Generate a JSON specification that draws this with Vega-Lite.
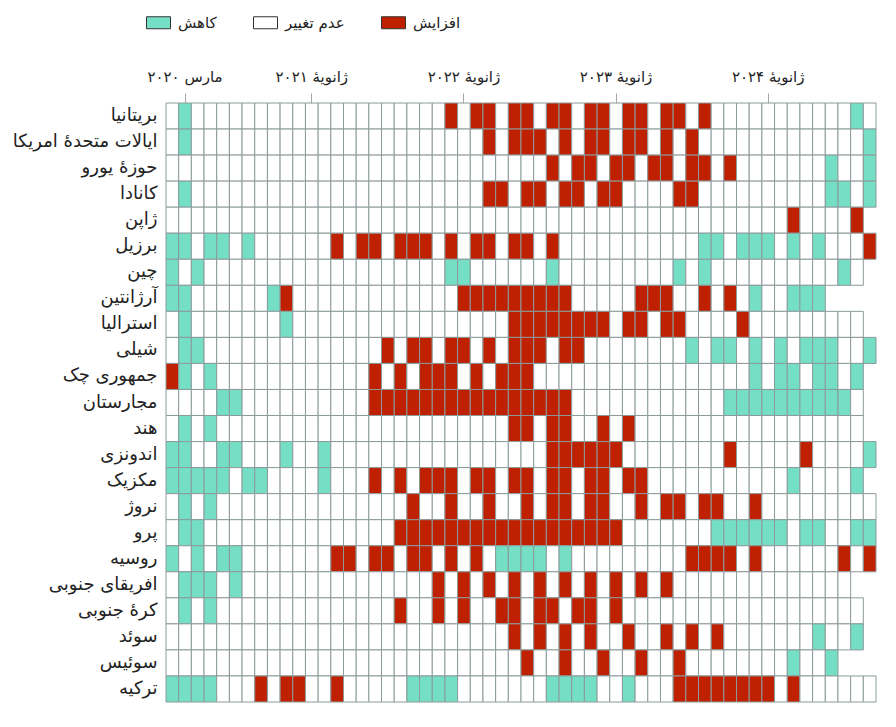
{"$schema":"https://vega.github.io/schema/vega-lite/v6.json","width":710,"height":599,"autosize":{"type":"none"},"padding":{"left":166,"top":103,"right":20,"bottom":25},"background":"white","config":{"font":"DejaVu Sans","view":{"stroke":null}},
"data":{"values":[
{"c":"GB","m":202002,"s":"same"},{"c":"GB","m":202003,"s":"down"},{"c":"GB","m":202004,"s":"same"},{"c":"GB","m":202005,"s":"same"},{"c":"GB","m":202006,"s":"same"},{"c":"GB","m":202007,"s":"same"},{"c":"GB","m":202008,"s":"same"},{"c":"GB","m":202009,"s":"same"},{"c":"GB","m":202010,"s":"same"},{"c":"GB","m":202011,"s":"same"},{"c":"GB","m":202012,"s":"same"},{"c":"GB","m":202101,"s":"same"},{"c":"GB","m":202102,"s":"same"},{"c":"GB","m":202103,"s":"same"},{"c":"GB","m":202104,"s":"same"},{"c":"GB","m":202105,"s":"same"},{"c":"GB","m":202106,"s":"same"},{"c":"GB","m":202107,"s":"same"},{"c":"GB","m":202108,"s":"same"},{"c":"GB","m":202109,"s":"same"},{"c":"GB","m":202110,"s":"same"},{"c":"GB","m":202111,"s":"same"},{"c":"GB","m":202112,"s":"up"},{"c":"GB","m":202201,"s":"same"},{"c":"GB","m":202202,"s":"up"},{"c":"GB","m":202203,"s":"up"},{"c":"GB","m":202204,"s":"same"},{"c":"GB","m":202205,"s":"up"},{"c":"GB","m":202206,"s":"up"},{"c":"GB","m":202207,"s":"same"},{"c":"GB","m":202208,"s":"up"},{"c":"GB","m":202209,"s":"up"},{"c":"GB","m":202210,"s":"same"},{"c":"GB","m":202211,"s":"up"},{"c":"GB","m":202212,"s":"up"},{"c":"GB","m":202301,"s":"same"},{"c":"GB","m":202302,"s":"up"},{"c":"GB","m":202303,"s":"up"},{"c":"GB","m":202304,"s":"same"},{"c":"GB","m":202305,"s":"up"},{"c":"GB","m":202306,"s":"up"},{"c":"GB","m":202307,"s":"same"},{"c":"GB","m":202308,"s":"up"},{"c":"GB","m":202309,"s":"same"},{"c":"GB","m":202310,"s":"same"},{"c":"GB","m":202311,"s":"same"},{"c":"GB","m":202312,"s":"same"},{"c":"GB","m":202401,"s":"same"},{"c":"GB","m":202402,"s":"same"},{"c":"GB","m":202403,"s":"same"},{"c":"GB","m":202404,"s":"same"},{"c":"GB","m":202405,"s":"same"},{"c":"GB","m":202406,"s":"same"},{"c":"GB","m":202407,"s":"same"},{"c":"GB","m":202408,"s":"down"},{"c":"GB","m":202409,"s":"same"},
{"c":"US","m":202002,"s":"same"},{"c":"US","m":202003,"s":"down"},{"c":"US","m":202004,"s":"same"},{"c":"US","m":202005,"s":"same"},{"c":"US","m":202006,"s":"same"},{"c":"US","m":202007,"s":"same"},{"c":"US","m":202008,"s":"same"},{"c":"US","m":202009,"s":"same"},{"c":"US","m":202010,"s":"same"},{"c":"US","m":202011,"s":"same"},{"c":"US","m":202012,"s":"same"},{"c":"US","m":202101,"s":"same"},{"c":"US","m":202102,"s":"same"},{"c":"US","m":202103,"s":"same"},{"c":"US","m":202104,"s":"same"},{"c":"US","m":202105,"s":"same"},{"c":"US","m":202106,"s":"same"},{"c":"US","m":202107,"s":"same"},{"c":"US","m":202108,"s":"same"},{"c":"US","m":202109,"s":"same"},{"c":"US","m":202110,"s":"same"},{"c":"US","m":202111,"s":"same"},{"c":"US","m":202112,"s":"same"},{"c":"US","m":202201,"s":"same"},{"c":"US","m":202202,"s":"same"},{"c":"US","m":202203,"s":"up"},{"c":"US","m":202204,"s":"same"},{"c":"US","m":202205,"s":"up"},{"c":"US","m":202206,"s":"up"},{"c":"US","m":202207,"s":"up"},{"c":"US","m":202208,"s":"same"},{"c":"US","m":202209,"s":"up"},{"c":"US","m":202210,"s":"same"},{"c":"US","m":202211,"s":"up"},{"c":"US","m":202212,"s":"up"},{"c":"US","m":202301,"s":"same"},{"c":"US","m":202302,"s":"up"},{"c":"US","m":202303,"s":"up"},{"c":"US","m":202304,"s":"same"},{"c":"US","m":202305,"s":"up"},{"c":"US","m":202306,"s":"same"},{"c":"US","m":202307,"s":"up"},{"c":"US","m":202308,"s":"same"},{"c":"US","m":202309,"s":"same"},{"c":"US","m":202310,"s":"same"},{"c":"US","m":202311,"s":"same"},{"c":"US","m":202312,"s":"same"},{"c":"US","m":202401,"s":"same"},{"c":"US","m":202402,"s":"same"},{"c":"US","m":202403,"s":"same"},{"c":"US","m":202404,"s":"same"},{"c":"US","m":202405,"s":"same"},{"c":"US","m":202406,"s":"same"},{"c":"US","m":202407,"s":"same"},{"c":"US","m":202408,"s":"same"},{"c":"US","m":202409,"s":"down"},
{"c":"EA","m":202002,"s":"same"},{"c":"EA","m":202003,"s":"same"},{"c":"EA","m":202004,"s":"same"},{"c":"EA","m":202005,"s":"same"},{"c":"EA","m":202006,"s":"same"},{"c":"EA","m":202007,"s":"same"},{"c":"EA","m":202008,"s":"same"},{"c":"EA","m":202009,"s":"same"},{"c":"EA","m":202010,"s":"same"},{"c":"EA","m":202011,"s":"same"},{"c":"EA","m":202012,"s":"same"},{"c":"EA","m":202101,"s":"same"},{"c":"EA","m":202102,"s":"same"},{"c":"EA","m":202103,"s":"same"},{"c":"EA","m":202104,"s":"same"},{"c":"EA","m":202105,"s":"same"},{"c":"EA","m":202106,"s":"same"},{"c":"EA","m":202107,"s":"same"},{"c":"EA","m":202108,"s":"same"},{"c":"EA","m":202109,"s":"same"},{"c":"EA","m":202110,"s":"same"},{"c":"EA","m":202111,"s":"same"},{"c":"EA","m":202112,"s":"same"},{"c":"EA","m":202201,"s":"same"},{"c":"EA","m":202202,"s":"same"},{"c":"EA","m":202203,"s":"same"},{"c":"EA","m":202204,"s":"same"},{"c":"EA","m":202205,"s":"same"},{"c":"EA","m":202206,"s":"same"},{"c":"EA","m":202207,"s":"same"},{"c":"EA","m":202208,"s":"up"},{"c":"EA","m":202209,"s":"same"},{"c":"EA","m":202210,"s":"up"},{"c":"EA","m":202211,"s":"up"},{"c":"EA","m":202212,"s":"same"},{"c":"EA","m":202301,"s":"up"},{"c":"EA","m":202302,"s":"up"},{"c":"EA","m":202303,"s":"same"},{"c":"EA","m":202304,"s":"up"},{"c":"EA","m":202305,"s":"up"},{"c":"EA","m":202306,"s":"same"},{"c":"EA","m":202307,"s":"up"},{"c":"EA","m":202308,"s":"up"},{"c":"EA","m":202309,"s":"same"},{"c":"EA","m":202310,"s":"up"},{"c":"EA","m":202311,"s":"same"},{"c":"EA","m":202312,"s":"same"},{"c":"EA","m":202401,"s":"same"},{"c":"EA","m":202402,"s":"same"},{"c":"EA","m":202403,"s":"same"},{"c":"EA","m":202404,"s":"same"},{"c":"EA","m":202405,"s":"same"},{"c":"EA","m":202406,"s":"down"},{"c":"EA","m":202407,"s":"same"},{"c":"EA","m":202408,"s":"same"},{"c":"EA","m":202409,"s":"down"},
{"c":"CA","m":202002,"s":"same"},{"c":"CA","m":202003,"s":"down"},{"c":"CA","m":202004,"s":"same"},{"c":"CA","m":202005,"s":"same"},{"c":"CA","m":202006,"s":"same"},{"c":"CA","m":202007,"s":"same"},{"c":"CA","m":202008,"s":"same"},{"c":"CA","m":202009,"s":"same"},{"c":"CA","m":202010,"s":"same"},{"c":"CA","m":202011,"s":"same"},{"c":"CA","m":202012,"s":"same"},{"c":"CA","m":202101,"s":"same"},{"c":"CA","m":202102,"s":"same"},{"c":"CA","m":202103,"s":"same"},{"c":"CA","m":202104,"s":"same"},{"c":"CA","m":202105,"s":"same"},{"c":"CA","m":202106,"s":"same"},{"c":"CA","m":202107,"s":"same"},{"c":"CA","m":202108,"s":"same"},{"c":"CA","m":202109,"s":"same"},{"c":"CA","m":202110,"s":"same"},{"c":"CA","m":202111,"s":"same"},{"c":"CA","m":202112,"s":"same"},{"c":"CA","m":202201,"s":"same"},{"c":"CA","m":202202,"s":"same"},{"c":"CA","m":202203,"s":"up"},{"c":"CA","m":202204,"s":"up"},{"c":"CA","m":202205,"s":"same"},{"c":"CA","m":202206,"s":"up"},{"c":"CA","m":202207,"s":"up"},{"c":"CA","m":202208,"s":"same"},{"c":"CA","m":202209,"s":"up"},{"c":"CA","m":202210,"s":"up"},{"c":"CA","m":202211,"s":"same"},{"c":"CA","m":202212,"s":"up"},{"c":"CA","m":202301,"s":"up"},{"c":"CA","m":202302,"s":"same"},{"c":"CA","m":202303,"s":"same"},{"c":"CA","m":202304,"s":"same"},{"c":"CA","m":202305,"s":"same"},{"c":"CA","m":202306,"s":"up"},{"c":"CA","m":202307,"s":"up"},{"c":"CA","m":202308,"s":"same"},{"c":"CA","m":202309,"s":"same"},{"c":"CA","m":202310,"s":"same"},{"c":"CA","m":202311,"s":"same"},{"c":"CA","m":202312,"s":"same"},{"c":"CA","m":202401,"s":"same"},{"c":"CA","m":202402,"s":"same"},{"c":"CA","m":202403,"s":"same"},{"c":"CA","m":202404,"s":"same"},{"c":"CA","m":202405,"s":"same"},{"c":"CA","m":202406,"s":"down"},{"c":"CA","m":202407,"s":"down"},{"c":"CA","m":202408,"s":"same"},{"c":"CA","m":202409,"s":"down"},
{"c":"JP","m":202002,"s":"same"},{"c":"JP","m":202003,"s":"same"},{"c":"JP","m":202004,"s":"same"},{"c":"JP","m":202005,"s":"same"},{"c":"JP","m":202006,"s":"same"},{"c":"JP","m":202007,"s":"same"},{"c":"JP","m":202008,"s":"same"},{"c":"JP","m":202009,"s":"same"},{"c":"JP","m":202010,"s":"same"},{"c":"JP","m":202011,"s":"same"},{"c":"JP","m":202012,"s":"same"},{"c":"JP","m":202101,"s":"same"},{"c":"JP","m":202102,"s":"same"},{"c":"JP","m":202103,"s":"same"},{"c":"JP","m":202104,"s":"same"},{"c":"JP","m":202105,"s":"same"},{"c":"JP","m":202106,"s":"same"},{"c":"JP","m":202107,"s":"same"},{"c":"JP","m":202108,"s":"same"},{"c":"JP","m":202109,"s":"same"},{"c":"JP","m":202110,"s":"same"},{"c":"JP","m":202111,"s":"same"},{"c":"JP","m":202112,"s":"same"},{"c":"JP","m":202201,"s":"same"},{"c":"JP","m":202202,"s":"same"},{"c":"JP","m":202203,"s":"same"},{"c":"JP","m":202204,"s":"same"},{"c":"JP","m":202205,"s":"same"},{"c":"JP","m":202206,"s":"same"},{"c":"JP","m":202207,"s":"same"},{"c":"JP","m":202208,"s":"same"},{"c":"JP","m":202209,"s":"same"},{"c":"JP","m":202210,"s":"same"},{"c":"JP","m":202211,"s":"same"},{"c":"JP","m":202212,"s":"same"},{"c":"JP","m":202301,"s":"same"},{"c":"JP","m":202302,"s":"same"},{"c":"JP","m":202303,"s":"same"},{"c":"JP","m":202304,"s":"same"},{"c":"JP","m":202305,"s":"same"},{"c":"JP","m":202306,"s":"same"},{"c":"JP","m":202307,"s":"same"},{"c":"JP","m":202308,"s":"same"},{"c":"JP","m":202309,"s":"same"},{"c":"JP","m":202310,"s":"same"},{"c":"JP","m":202311,"s":"same"},{"c":"JP","m":202312,"s":"same"},{"c":"JP","m":202401,"s":"same"},{"c":"JP","m":202402,"s":"same"},{"c":"JP","m":202403,"s":"up"},{"c":"JP","m":202404,"s":"same"},{"c":"JP","m":202405,"s":"same"},{"c":"JP","m":202406,"s":"same"},{"c":"JP","m":202407,"s":"same"},{"c":"JP","m":202408,"s":"up"},
{"c":"BR","m":202002,"s":"down"},{"c":"BR","m":202003,"s":"down"},{"c":"BR","m":202004,"s":"same"},{"c":"BR","m":202005,"s":"down"},{"c":"BR","m":202006,"s":"down"},{"c":"BR","m":202007,"s":"same"},{"c":"BR","m":202008,"s":"down"},{"c":"BR","m":202009,"s":"same"},{"c":"BR","m":202010,"s":"same"},{"c":"BR","m":202011,"s":"same"},{"c":"BR","m":202012,"s":"same"},{"c":"BR","m":202101,"s":"same"},{"c":"BR","m":202102,"s":"same"},{"c":"BR","m":202103,"s":"up"},{"c":"BR","m":202104,"s":"same"},{"c":"BR","m":202105,"s":"up"},{"c":"BR","m":202106,"s":"up"},{"c":"BR","m":202107,"s":"same"},{"c":"BR","m":202108,"s":"up"},{"c":"BR","m":202109,"s":"up"},{"c":"BR","m":202110,"s":"up"},{"c":"BR","m":202111,"s":"same"},{"c":"BR","m":202112,"s":"up"},{"c":"BR","m":202201,"s":"same"},{"c":"BR","m":202202,"s":"up"},{"c":"BR","m":202203,"s":"up"},{"c":"BR","m":202204,"s":"same"},{"c":"BR","m":202205,"s":"up"},{"c":"BR","m":202206,"s":"up"},{"c":"BR","m":202207,"s":"same"},{"c":"BR","m":202208,"s":"up"},{"c":"BR","m":202209,"s":"same"},{"c":"BR","m":202210,"s":"same"},{"c":"BR","m":202211,"s":"same"},{"c":"BR","m":202212,"s":"same"},{"c":"BR","m":202301,"s":"same"},{"c":"BR","m":202302,"s":"same"},{"c":"BR","m":202303,"s":"same"},{"c":"BR","m":202304,"s":"same"},{"c":"BR","m":202305,"s":"same"},{"c":"BR","m":202306,"s":"same"},{"c":"BR","m":202307,"s":"same"},{"c":"BR","m":202308,"s":"down"},{"c":"BR","m":202309,"s":"down"},{"c":"BR","m":202310,"s":"same"},{"c":"BR","m":202311,"s":"down"},{"c":"BR","m":202312,"s":"down"},{"c":"BR","m":202401,"s":"down"},{"c":"BR","m":202402,"s":"same"},{"c":"BR","m":202403,"s":"down"},{"c":"BR","m":202404,"s":"same"},{"c":"BR","m":202405,"s":"down"},{"c":"BR","m":202406,"s":"same"},{"c":"BR","m":202407,"s":"same"},{"c":"BR","m":202408,"s":"same"},{"c":"BR","m":202409,"s":"up"},
{"c":"CN","m":202002,"s":"down"},{"c":"CN","m":202003,"s":"same"},{"c":"CN","m":202004,"s":"down"},{"c":"CN","m":202005,"s":"same"},{"c":"CN","m":202006,"s":"same"},{"c":"CN","m":202007,"s":"same"},{"c":"CN","m":202008,"s":"same"},{"c":"CN","m":202009,"s":"same"},{"c":"CN","m":202010,"s":"same"},{"c":"CN","m":202011,"s":"same"},{"c":"CN","m":202012,"s":"same"},{"c":"CN","m":202101,"s":"same"},{"c":"CN","m":202102,"s":"same"},{"c":"CN","m":202103,"s":"same"},{"c":"CN","m":202104,"s":"same"},{"c":"CN","m":202105,"s":"same"},{"c":"CN","m":202106,"s":"same"},{"c":"CN","m":202107,"s":"same"},{"c":"CN","m":202108,"s":"same"},{"c":"CN","m":202109,"s":"same"},{"c":"CN","m":202110,"s":"same"},{"c":"CN","m":202111,"s":"same"},{"c":"CN","m":202112,"s":"down"},{"c":"CN","m":202201,"s":"down"},{"c":"CN","m":202202,"s":"same"},{"c":"CN","m":202203,"s":"same"},{"c":"CN","m":202204,"s":"same"},{"c":"CN","m":202205,"s":"same"},{"c":"CN","m":202206,"s":"same"},{"c":"CN","m":202207,"s":"same"},{"c":"CN","m":202208,"s":"down"},{"c":"CN","m":202209,"s":"same"},{"c":"CN","m":202210,"s":"same"},{"c":"CN","m":202211,"s":"same"},{"c":"CN","m":202212,"s":"same"},{"c":"CN","m":202301,"s":"same"},{"c":"CN","m":202302,"s":"same"},{"c":"CN","m":202303,"s":"same"},{"c":"CN","m":202304,"s":"same"},{"c":"CN","m":202305,"s":"same"},{"c":"CN","m":202306,"s":"down"},{"c":"CN","m":202307,"s":"same"},{"c":"CN","m":202308,"s":"down"},{"c":"CN","m":202309,"s":"same"},{"c":"CN","m":202310,"s":"same"},{"c":"CN","m":202311,"s":"same"},{"c":"CN","m":202312,"s":"same"},{"c":"CN","m":202401,"s":"same"},{"c":"CN","m":202402,"s":"same"},{"c":"CN","m":202403,"s":"same"},{"c":"CN","m":202404,"s":"same"},{"c":"CN","m":202405,"s":"same"},{"c":"CN","m":202406,"s":"same"},{"c":"CN","m":202407,"s":"down"},{"c":"CN","m":202408,"s":"same"},
{"c":"AR","m":202002,"s":"down"},{"c":"AR","m":202003,"s":"down"},{"c":"AR","m":202004,"s":"same"},{"c":"AR","m":202005,"s":"same"},{"c":"AR","m":202006,"s":"same"},{"c":"AR","m":202007,"s":"same"},{"c":"AR","m":202008,"s":"same"},{"c":"AR","m":202009,"s":"same"},{"c":"AR","m":202010,"s":"down"},{"c":"AR","m":202011,"s":"up"},{"c":"AR","m":202012,"s":"same"},{"c":"AR","m":202101,"s":"same"},{"c":"AR","m":202102,"s":"same"},{"c":"AR","m":202103,"s":"same"},{"c":"AR","m":202104,"s":"same"},{"c":"AR","m":202105,"s":"same"},{"c":"AR","m":202106,"s":"same"},{"c":"AR","m":202107,"s":"same"},{"c":"AR","m":202108,"s":"same"},{"c":"AR","m":202109,"s":"same"},{"c":"AR","m":202110,"s":"same"},{"c":"AR","m":202111,"s":"same"},{"c":"AR","m":202112,"s":"same"},{"c":"AR","m":202201,"s":"up"},{"c":"AR","m":202202,"s":"up"},{"c":"AR","m":202203,"s":"up"},{"c":"AR","m":202204,"s":"up"},{"c":"AR","m":202205,"s":"up"},{"c":"AR","m":202206,"s":"up"},{"c":"AR","m":202207,"s":"up"},{"c":"AR","m":202208,"s":"up"},{"c":"AR","m":202209,"s":"up"},{"c":"AR","m":202210,"s":"same"},{"c":"AR","m":202211,"s":"same"},{"c":"AR","m":202212,"s":"same"},{"c":"AR","m":202301,"s":"same"},{"c":"AR","m":202302,"s":"same"},{"c":"AR","m":202303,"s":"up"},{"c":"AR","m":202304,"s":"up"},{"c":"AR","m":202305,"s":"up"},{"c":"AR","m":202306,"s":"same"},{"c":"AR","m":202307,"s":"same"},{"c":"AR","m":202308,"s":"up"},{"c":"AR","m":202309,"s":"same"},{"c":"AR","m":202310,"s":"up"},{"c":"AR","m":202311,"s":"same"},{"c":"AR","m":202312,"s":"down"},{"c":"AR","m":202401,"s":"same"},{"c":"AR","m":202402,"s":"same"},{"c":"AR","m":202403,"s":"down"},{"c":"AR","m":202404,"s":"down"},{"c":"AR","m":202405,"s":"down"},
{"c":"AU","m":202002,"s":"same"},{"c":"AU","m":202003,"s":"down"},{"c":"AU","m":202004,"s":"same"},{"c":"AU","m":202005,"s":"same"},{"c":"AU","m":202006,"s":"same"},{"c":"AU","m":202007,"s":"same"},{"c":"AU","m":202008,"s":"same"},{"c":"AU","m":202009,"s":"same"},{"c":"AU","m":202010,"s":"same"},{"c":"AU","m":202011,"s":"down"},{"c":"AU","m":202012,"s":"same"},{"c":"AU","m":202101,"s":"same"},{"c":"AU","m":202102,"s":"same"},{"c":"AU","m":202103,"s":"same"},{"c":"AU","m":202104,"s":"same"},{"c":"AU","m":202105,"s":"same"},{"c":"AU","m":202106,"s":"same"},{"c":"AU","m":202107,"s":"same"},{"c":"AU","m":202108,"s":"same"},{"c":"AU","m":202109,"s":"same"},{"c":"AU","m":202110,"s":"same"},{"c":"AU","m":202111,"s":"same"},{"c":"AU","m":202112,"s":"same"},{"c":"AU","m":202201,"s":"same"},{"c":"AU","m":202202,"s":"same"},{"c":"AU","m":202203,"s":"same"},{"c":"AU","m":202204,"s":"same"},{"c":"AU","m":202205,"s":"up"},{"c":"AU","m":202206,"s":"up"},{"c":"AU","m":202207,"s":"up"},{"c":"AU","m":202208,"s":"up"},{"c":"AU","m":202209,"s":"up"},{"c":"AU","m":202210,"s":"up"},{"c":"AU","m":202211,"s":"up"},{"c":"AU","m":202212,"s":"up"},{"c":"AU","m":202301,"s":"same"},{"c":"AU","m":202302,"s":"up"},{"c":"AU","m":202303,"s":"up"},{"c":"AU","m":202304,"s":"same"},{"c":"AU","m":202305,"s":"up"},{"c":"AU","m":202306,"s":"up"},{"c":"AU","m":202307,"s":"same"},{"c":"AU","m":202308,"s":"same"},{"c":"AU","m":202309,"s":"same"},{"c":"AU","m":202310,"s":"same"},{"c":"AU","m":202311,"s":"up"},{"c":"AU","m":202312,"s":"same"},{"c":"AU","m":202401,"s":"same"},{"c":"AU","m":202402,"s":"same"},{"c":"AU","m":202403,"s":"same"},{"c":"AU","m":202404,"s":"same"},{"c":"AU","m":202405,"s":"same"},{"c":"AU","m":202406,"s":"same"},{"c":"AU","m":202407,"s":"same"},{"c":"AU","m":202408,"s":"same"},
{"c":"CL","m":202002,"s":"same"},{"c":"CL","m":202003,"s":"down"},{"c":"CL","m":202004,"s":"down"},{"c":"CL","m":202005,"s":"same"},{"c":"CL","m":202006,"s":"same"},{"c":"CL","m":202007,"s":"same"},{"c":"CL","m":202008,"s":"same"},{"c":"CL","m":202009,"s":"same"},{"c":"CL","m":202010,"s":"same"},{"c":"CL","m":202011,"s":"same"},{"c":"CL","m":202012,"s":"same"},{"c":"CL","m":202101,"s":"same"},{"c":"CL","m":202102,"s":"same"},{"c":"CL","m":202103,"s":"same"},{"c":"CL","m":202104,"s":"same"},{"c":"CL","m":202105,"s":"same"},{"c":"CL","m":202106,"s":"same"},{"c":"CL","m":202107,"s":"up"},{"c":"CL","m":202108,"s":"same"},{"c":"CL","m":202109,"s":"up"},{"c":"CL","m":202110,"s":"up"},{"c":"CL","m":202111,"s":"same"},{"c":"CL","m":202112,"s":"up"},{"c":"CL","m":202201,"s":"up"},{"c":"CL","m":202202,"s":"same"},{"c":"CL","m":202203,"s":"up"},{"c":"CL","m":202204,"s":"same"},{"c":"CL","m":202205,"s":"up"},{"c":"CL","m":202206,"s":"up"},{"c":"CL","m":202207,"s":"up"},{"c":"CL","m":202208,"s":"same"},{"c":"CL","m":202209,"s":"up"},{"c":"CL","m":202210,"s":"up"},{"c":"CL","m":202211,"s":"same"},{"c":"CL","m":202212,"s":"same"},{"c":"CL","m":202301,"s":"same"},{"c":"CL","m":202302,"s":"same"},{"c":"CL","m":202303,"s":"same"},{"c":"CL","m":202304,"s":"same"},{"c":"CL","m":202305,"s":"same"},{"c":"CL","m":202306,"s":"same"},{"c":"CL","m":202307,"s":"down"},{"c":"CL","m":202308,"s":"same"},{"c":"CL","m":202309,"s":"down"},{"c":"CL","m":202310,"s":"down"},{"c":"CL","m":202311,"s":"same"},{"c":"CL","m":202312,"s":"down"},{"c":"CL","m":202401,"s":"same"},{"c":"CL","m":202402,"s":"down"},{"c":"CL","m":202403,"s":"same"},{"c":"CL","m":202404,"s":"down"},{"c":"CL","m":202405,"s":"down"},{"c":"CL","m":202406,"s":"down"},{"c":"CL","m":202407,"s":"same"},{"c":"CL","m":202408,"s":"same"},{"c":"CL","m":202409,"s":"down"},
{"c":"CZ","m":202002,"s":"up"},{"c":"CZ","m":202003,"s":"down"},{"c":"CZ","m":202004,"s":"same"},{"c":"CZ","m":202005,"s":"down"},{"c":"CZ","m":202006,"s":"same"},{"c":"CZ","m":202007,"s":"same"},{"c":"CZ","m":202008,"s":"same"},{"c":"CZ","m":202009,"s":"same"},{"c":"CZ","m":202010,"s":"same"},{"c":"CZ","m":202011,"s":"same"},{"c":"CZ","m":202012,"s":"same"},{"c":"CZ","m":202101,"s":"same"},{"c":"CZ","m":202102,"s":"same"},{"c":"CZ","m":202103,"s":"same"},{"c":"CZ","m":202104,"s":"same"},{"c":"CZ","m":202105,"s":"same"},{"c":"CZ","m":202106,"s":"up"},{"c":"CZ","m":202107,"s":"same"},{"c":"CZ","m":202108,"s":"up"},{"c":"CZ","m":202109,"s":"same"},{"c":"CZ","m":202110,"s":"up"},{"c":"CZ","m":202111,"s":"up"},{"c":"CZ","m":202112,"s":"up"},{"c":"CZ","m":202201,"s":"same"},{"c":"CZ","m":202202,"s":"up"},{"c":"CZ","m":202203,"s":"same"},{"c":"CZ","m":202204,"s":"up"},{"c":"CZ","m":202205,"s":"up"},{"c":"CZ","m":202206,"s":"up"},{"c":"CZ","m":202207,"s":"same"},{"c":"CZ","m":202208,"s":"same"},{"c":"CZ","m":202209,"s":"same"},{"c":"CZ","m":202210,"s":"same"},{"c":"CZ","m":202211,"s":"same"},{"c":"CZ","m":202212,"s":"same"},{"c":"CZ","m":202301,"s":"same"},{"c":"CZ","m":202302,"s":"same"},{"c":"CZ","m":202303,"s":"same"},{"c":"CZ","m":202304,"s":"same"},{"c":"CZ","m":202305,"s":"same"},{"c":"CZ","m":202306,"s":"same"},{"c":"CZ","m":202307,"s":"same"},{"c":"CZ","m":202308,"s":"same"},{"c":"CZ","m":202309,"s":"same"},{"c":"CZ","m":202310,"s":"same"},{"c":"CZ","m":202311,"s":"same"},{"c":"CZ","m":202312,"s":"down"},{"c":"CZ","m":202401,"s":"same"},{"c":"CZ","m":202402,"s":"down"},{"c":"CZ","m":202403,"s":"down"},{"c":"CZ","m":202404,"s":"same"},{"c":"CZ","m":202405,"s":"down"},{"c":"CZ","m":202406,"s":"down"},{"c":"CZ","m":202407,"s":"same"},{"c":"CZ","m":202408,"s":"down"},
{"c":"HU","m":202002,"s":"same"},{"c":"HU","m":202003,"s":"same"},{"c":"HU","m":202004,"s":"same"},{"c":"HU","m":202005,"s":"same"},{"c":"HU","m":202006,"s":"down"},{"c":"HU","m":202007,"s":"down"},{"c":"HU","m":202008,"s":"same"},{"c":"HU","m":202009,"s":"same"},{"c":"HU","m":202010,"s":"same"},{"c":"HU","m":202011,"s":"same"},{"c":"HU","m":202012,"s":"same"},{"c":"HU","m":202101,"s":"same"},{"c":"HU","m":202102,"s":"same"},{"c":"HU","m":202103,"s":"same"},{"c":"HU","m":202104,"s":"same"},{"c":"HU","m":202105,"s":"same"},{"c":"HU","m":202106,"s":"up"},{"c":"HU","m":202107,"s":"up"},{"c":"HU","m":202108,"s":"up"},{"c":"HU","m":202109,"s":"up"},{"c":"HU","m":202110,"s":"up"},{"c":"HU","m":202111,"s":"up"},{"c":"HU","m":202112,"s":"up"},{"c":"HU","m":202201,"s":"up"},{"c":"HU","m":202202,"s":"up"},{"c":"HU","m":202203,"s":"up"},{"c":"HU","m":202204,"s":"up"},{"c":"HU","m":202205,"s":"up"},{"c":"HU","m":202206,"s":"up"},{"c":"HU","m":202207,"s":"up"},{"c":"HU","m":202208,"s":"up"},{"c":"HU","m":202209,"s":"up"},{"c":"HU","m":202210,"s":"same"},{"c":"HU","m":202211,"s":"same"},{"c":"HU","m":202212,"s":"same"},{"c":"HU","m":202301,"s":"same"},{"c":"HU","m":202302,"s":"same"},{"c":"HU","m":202303,"s":"same"},{"c":"HU","m":202304,"s":"same"},{"c":"HU","m":202305,"s":"same"},{"c":"HU","m":202306,"s":"same"},{"c":"HU","m":202307,"s":"same"},{"c":"HU","m":202308,"s":"same"},{"c":"HU","m":202309,"s":"same"},{"c":"HU","m":202310,"s":"down"},{"c":"HU","m":202311,"s":"down"},{"c":"HU","m":202312,"s":"down"},{"c":"HU","m":202401,"s":"down"},{"c":"HU","m":202402,"s":"down"},{"c":"HU","m":202403,"s":"down"},{"c":"HU","m":202404,"s":"down"},{"c":"HU","m":202405,"s":"down"},{"c":"HU","m":202406,"s":"down"},{"c":"HU","m":202407,"s":"down"},{"c":"HU","m":202408,"s":"same"},
{"c":"IN","m":202002,"s":"same"},{"c":"IN","m":202003,"s":"down"},{"c":"IN","m":202004,"s":"same"},{"c":"IN","m":202005,"s":"down"},{"c":"IN","m":202006,"s":"same"},{"c":"IN","m":202007,"s":"same"},{"c":"IN","m":202008,"s":"same"},{"c":"IN","m":202009,"s":"same"},{"c":"IN","m":202010,"s":"same"},{"c":"IN","m":202011,"s":"same"},{"c":"IN","m":202012,"s":"same"},{"c":"IN","m":202101,"s":"same"},{"c":"IN","m":202102,"s":"same"},{"c":"IN","m":202103,"s":"same"},{"c":"IN","m":202104,"s":"same"},{"c":"IN","m":202105,"s":"same"},{"c":"IN","m":202106,"s":"same"},{"c":"IN","m":202107,"s":"same"},{"c":"IN","m":202108,"s":"same"},{"c":"IN","m":202109,"s":"same"},{"c":"IN","m":202110,"s":"same"},{"c":"IN","m":202111,"s":"same"},{"c":"IN","m":202112,"s":"same"},{"c":"IN","m":202201,"s":"same"},{"c":"IN","m":202202,"s":"same"},{"c":"IN","m":202203,"s":"same"},{"c":"IN","m":202204,"s":"same"},{"c":"IN","m":202205,"s":"up"},{"c":"IN","m":202206,"s":"up"},{"c":"IN","m":202207,"s":"same"},{"c":"IN","m":202208,"s":"up"},{"c":"IN","m":202209,"s":"up"},{"c":"IN","m":202210,"s":"same"},{"c":"IN","m":202211,"s":"same"},{"c":"IN","m":202212,"s":"up"},{"c":"IN","m":202301,"s":"same"},{"c":"IN","m":202302,"s":"up"},{"c":"IN","m":202303,"s":"same"},{"c":"IN","m":202304,"s":"same"},{"c":"IN","m":202305,"s":"same"},{"c":"IN","m":202306,"s":"same"},{"c":"IN","m":202307,"s":"same"},{"c":"IN","m":202308,"s":"same"},{"c":"IN","m":202309,"s":"same"},{"c":"IN","m":202310,"s":"same"},{"c":"IN","m":202311,"s":"same"},{"c":"IN","m":202312,"s":"same"},{"c":"IN","m":202401,"s":"same"},{"c":"IN","m":202402,"s":"same"},{"c":"IN","m":202403,"s":"same"},{"c":"IN","m":202404,"s":"same"},{"c":"IN","m":202405,"s":"same"},{"c":"IN","m":202406,"s":"same"},{"c":"IN","m":202407,"s":"same"},{"c":"IN","m":202408,"s":"same"},
{"c":"ID","m":202002,"s":"down"},{"c":"ID","m":202003,"s":"down"},{"c":"ID","m":202004,"s":"same"},{"c":"ID","m":202005,"s":"same"},{"c":"ID","m":202006,"s":"down"},{"c":"ID","m":202007,"s":"down"},{"c":"ID","m":202008,"s":"same"},{"c":"ID","m":202009,"s":"same"},{"c":"ID","m":202010,"s":"same"},{"c":"ID","m":202011,"s":"down"},{"c":"ID","m":202012,"s":"same"},{"c":"ID","m":202101,"s":"same"},{"c":"ID","m":202102,"s":"down"},{"c":"ID","m":202103,"s":"same"},{"c":"ID","m":202104,"s":"same"},{"c":"ID","m":202105,"s":"same"},{"c":"ID","m":202106,"s":"same"},{"c":"ID","m":202107,"s":"same"},{"c":"ID","m":202108,"s":"same"},{"c":"ID","m":202109,"s":"same"},{"c":"ID","m":202110,"s":"same"},{"c":"ID","m":202111,"s":"same"},{"c":"ID","m":202112,"s":"same"},{"c":"ID","m":202201,"s":"same"},{"c":"ID","m":202202,"s":"same"},{"c":"ID","m":202203,"s":"same"},{"c":"ID","m":202204,"s":"same"},{"c":"ID","m":202205,"s":"same"},{"c":"ID","m":202206,"s":"same"},{"c":"ID","m":202207,"s":"same"},{"c":"ID","m":202208,"s":"up"},{"c":"ID","m":202209,"s":"up"},{"c":"ID","m":202210,"s":"up"},{"c":"ID","m":202211,"s":"up"},{"c":"ID","m":202212,"s":"up"},{"c":"ID","m":202301,"s":"up"},{"c":"ID","m":202302,"s":"same"},{"c":"ID","m":202303,"s":"same"},{"c":"ID","m":202304,"s":"same"},{"c":"ID","m":202305,"s":"same"},{"c":"ID","m":202306,"s":"same"},{"c":"ID","m":202307,"s":"same"},{"c":"ID","m":202308,"s":"same"},{"c":"ID","m":202309,"s":"same"},{"c":"ID","m":202310,"s":"up"},{"c":"ID","m":202311,"s":"same"},{"c":"ID","m":202312,"s":"same"},{"c":"ID","m":202401,"s":"same"},{"c":"ID","m":202402,"s":"same"},{"c":"ID","m":202403,"s":"same"},{"c":"ID","m":202404,"s":"up"},{"c":"ID","m":202405,"s":"same"},{"c":"ID","m":202406,"s":"same"},{"c":"ID","m":202407,"s":"same"},{"c":"ID","m":202408,"s":"same"},{"c":"ID","m":202409,"s":"down"},
{"c":"MX","m":202002,"s":"down"},{"c":"MX","m":202003,"s":"down"},{"c":"MX","m":202004,"s":"down"},{"c":"MX","m":202005,"s":"down"},{"c":"MX","m":202006,"s":"down"},{"c":"MX","m":202007,"s":"same"},{"c":"MX","m":202008,"s":"down"},{"c":"MX","m":202009,"s":"down"},{"c":"MX","m":202010,"s":"same"},{"c":"MX","m":202011,"s":"same"},{"c":"MX","m":202012,"s":"same"},{"c":"MX","m":202101,"s":"same"},{"c":"MX","m":202102,"s":"down"},{"c":"MX","m":202103,"s":"same"},{"c":"MX","m":202104,"s":"same"},{"c":"MX","m":202105,"s":"same"},{"c":"MX","m":202106,"s":"up"},{"c":"MX","m":202107,"s":"same"},{"c":"MX","m":202108,"s":"up"},{"c":"MX","m":202109,"s":"same"},{"c":"MX","m":202110,"s":"up"},{"c":"MX","m":202111,"s":"up"},{"c":"MX","m":202112,"s":"up"},{"c":"MX","m":202201,"s":"same"},{"c":"MX","m":202202,"s":"up"},{"c":"MX","m":202203,"s":"up"},{"c":"MX","m":202204,"s":"same"},{"c":"MX","m":202205,"s":"up"},{"c":"MX","m":202206,"s":"up"},{"c":"MX","m":202207,"s":"same"},{"c":"MX","m":202208,"s":"up"},{"c":"MX","m":202209,"s":"up"},{"c":"MX","m":202210,"s":"same"},{"c":"MX","m":202211,"s":"up"},{"c":"MX","m":202212,"s":"up"},{"c":"MX","m":202301,"s":"same"},{"c":"MX","m":202302,"s":"up"},{"c":"MX","m":202303,"s":"up"},{"c":"MX","m":202304,"s":"same"},{"c":"MX","m":202305,"s":"same"},{"c":"MX","m":202306,"s":"same"},{"c":"MX","m":202307,"s":"same"},{"c":"MX","m":202308,"s":"same"},{"c":"MX","m":202309,"s":"same"},{"c":"MX","m":202310,"s":"same"},{"c":"MX","m":202311,"s":"same"},{"c":"MX","m":202312,"s":"same"},{"c":"MX","m":202401,"s":"same"},{"c":"MX","m":202402,"s":"same"},{"c":"MX","m":202403,"s":"down"},{"c":"MX","m":202404,"s":"same"},{"c":"MX","m":202405,"s":"same"},{"c":"MX","m":202406,"s":"same"},{"c":"MX","m":202407,"s":"same"},{"c":"MX","m":202408,"s":"down"},
{"c":"NO","m":202002,"s":"same"},{"c":"NO","m":202003,"s":"down"},{"c":"NO","m":202004,"s":"same"},{"c":"NO","m":202005,"s":"down"},{"c":"NO","m":202006,"s":"same"},{"c":"NO","m":202007,"s":"same"},{"c":"NO","m":202008,"s":"same"},{"c":"NO","m":202009,"s":"same"},{"c":"NO","m":202010,"s":"same"},{"c":"NO","m":202011,"s":"same"},{"c":"NO","m":202012,"s":"same"},{"c":"NO","m":202101,"s":"same"},{"c":"NO","m":202102,"s":"same"},{"c":"NO","m":202103,"s":"same"},{"c":"NO","m":202104,"s":"same"},{"c":"NO","m":202105,"s":"same"},{"c":"NO","m":202106,"s":"same"},{"c":"NO","m":202107,"s":"same"},{"c":"NO","m":202108,"s":"same"},{"c":"NO","m":202109,"s":"up"},{"c":"NO","m":202110,"s":"same"},{"c":"NO","m":202111,"s":"same"},{"c":"NO","m":202112,"s":"up"},{"c":"NO","m":202201,"s":"same"},{"c":"NO","m":202202,"s":"same"},{"c":"NO","m":202203,"s":"up"},{"c":"NO","m":202204,"s":"same"},{"c":"NO","m":202205,"s":"same"},{"c":"NO","m":202206,"s":"up"},{"c":"NO","m":202207,"s":"same"},{"c":"NO","m":202208,"s":"up"},{"c":"NO","m":202209,"s":"up"},{"c":"NO","m":202210,"s":"same"},{"c":"NO","m":202211,"s":"up"},{"c":"NO","m":202212,"s":"up"},{"c":"NO","m":202301,"s":"same"},{"c":"NO","m":202302,"s":"same"},{"c":"NO","m":202303,"s":"up"},{"c":"NO","m":202304,"s":"same"},{"c":"NO","m":202305,"s":"up"},{"c":"NO","m":202306,"s":"up"},{"c":"NO","m":202307,"s":"same"},{"c":"NO","m":202308,"s":"up"},{"c":"NO","m":202309,"s":"up"},{"c":"NO","m":202310,"s":"same"},{"c":"NO","m":202311,"s":"same"},{"c":"NO","m":202312,"s":"up"},{"c":"NO","m":202401,"s":"same"},{"c":"NO","m":202402,"s":"same"},{"c":"NO","m":202403,"s":"same"},{"c":"NO","m":202404,"s":"same"},{"c":"NO","m":202405,"s":"same"},{"c":"NO","m":202406,"s":"same"},{"c":"NO","m":202407,"s":"same"},{"c":"NO","m":202408,"s":"same"},{"c":"NO","m":202409,"s":"same"},
{"c":"PE","m":202002,"s":"same"},{"c":"PE","m":202003,"s":"down"},{"c":"PE","m":202004,"s":"down"},{"c":"PE","m":202005,"s":"same"},{"c":"PE","m":202006,"s":"same"},{"c":"PE","m":202007,"s":"same"},{"c":"PE","m":202008,"s":"same"},{"c":"PE","m":202009,"s":"same"},{"c":"PE","m":202010,"s":"same"},{"c":"PE","m":202011,"s":"same"},{"c":"PE","m":202012,"s":"same"},{"c":"PE","m":202101,"s":"same"},{"c":"PE","m":202102,"s":"same"},{"c":"PE","m":202103,"s":"same"},{"c":"PE","m":202104,"s":"same"},{"c":"PE","m":202105,"s":"same"},{"c":"PE","m":202106,"s":"same"},{"c":"PE","m":202107,"s":"same"},{"c":"PE","m":202108,"s":"up"},{"c":"PE","m":202109,"s":"up"},{"c":"PE","m":202110,"s":"up"},{"c":"PE","m":202111,"s":"up"},{"c":"PE","m":202112,"s":"up"},{"c":"PE","m":202201,"s":"up"},{"c":"PE","m":202202,"s":"up"},{"c":"PE","m":202203,"s":"up"},{"c":"PE","m":202204,"s":"up"},{"c":"PE","m":202205,"s":"up"},{"c":"PE","m":202206,"s":"up"},{"c":"PE","m":202207,"s":"up"},{"c":"PE","m":202208,"s":"up"},{"c":"PE","m":202209,"s":"up"},{"c":"PE","m":202210,"s":"up"},{"c":"PE","m":202211,"s":"up"},{"c":"PE","m":202212,"s":"up"},{"c":"PE","m":202301,"s":"up"},{"c":"PE","m":202302,"s":"same"},{"c":"PE","m":202303,"s":"same"},{"c":"PE","m":202304,"s":"same"},{"c":"PE","m":202305,"s":"same"},{"c":"PE","m":202306,"s":"same"},{"c":"PE","m":202307,"s":"same"},{"c":"PE","m":202308,"s":"same"},{"c":"PE","m":202309,"s":"down"},{"c":"PE","m":202310,"s":"down"},{"c":"PE","m":202311,"s":"down"},{"c":"PE","m":202312,"s":"down"},{"c":"PE","m":202401,"s":"down"},{"c":"PE","m":202402,"s":"down"},{"c":"PE","m":202403,"s":"same"},{"c":"PE","m":202404,"s":"down"},{"c":"PE","m":202405,"s":"down"},{"c":"PE","m":202406,"s":"same"},{"c":"PE","m":202407,"s":"same"},{"c":"PE","m":202408,"s":"down"},{"c":"PE","m":202409,"s":"down"},
{"c":"RU","m":202002,"s":"down"},{"c":"RU","m":202003,"s":"same"},{"c":"RU","m":202004,"s":"down"},{"c":"RU","m":202005,"s":"same"},{"c":"RU","m":202006,"s":"down"},{"c":"RU","m":202007,"s":"down"},{"c":"RU","m":202008,"s":"same"},{"c":"RU","m":202009,"s":"same"},{"c":"RU","m":202010,"s":"same"},{"c":"RU","m":202011,"s":"same"},{"c":"RU","m":202012,"s":"same"},{"c":"RU","m":202101,"s":"same"},{"c":"RU","m":202102,"s":"same"},{"c":"RU","m":202103,"s":"up"},{"c":"RU","m":202104,"s":"up"},{"c":"RU","m":202105,"s":"same"},{"c":"RU","m":202106,"s":"up"},{"c":"RU","m":202107,"s":"up"},{"c":"RU","m":202108,"s":"same"},{"c":"RU","m":202109,"s":"up"},{"c":"RU","m":202110,"s":"up"},{"c":"RU","m":202111,"s":"same"},{"c":"RU","m":202112,"s":"up"},{"c":"RU","m":202201,"s":"same"},{"c":"RU","m":202202,"s":"up"},{"c":"RU","m":202203,"s":"same"},{"c":"RU","m":202204,"s":"down"},{"c":"RU","m":202205,"s":"down"},{"c":"RU","m":202206,"s":"down"},{"c":"RU","m":202207,"s":"down"},{"c":"RU","m":202208,"s":"same"},{"c":"RU","m":202209,"s":"down"},{"c":"RU","m":202210,"s":"same"},{"c":"RU","m":202211,"s":"same"},{"c":"RU","m":202212,"s":"same"},{"c":"RU","m":202301,"s":"same"},{"c":"RU","m":202302,"s":"same"},{"c":"RU","m":202303,"s":"same"},{"c":"RU","m":202304,"s":"same"},{"c":"RU","m":202305,"s":"same"},{"c":"RU","m":202306,"s":"same"},{"c":"RU","m":202307,"s":"up"},{"c":"RU","m":202308,"s":"up"},{"c":"RU","m":202309,"s":"up"},{"c":"RU","m":202310,"s":"up"},{"c":"RU","m":202311,"s":"same"},{"c":"RU","m":202312,"s":"up"},{"c":"RU","m":202401,"s":"same"},{"c":"RU","m":202402,"s":"same"},{"c":"RU","m":202403,"s":"same"},{"c":"RU","m":202404,"s":"same"},{"c":"RU","m":202405,"s":"same"},{"c":"RU","m":202406,"s":"same"},{"c":"RU","m":202407,"s":"up"},{"c":"RU","m":202408,"s":"same"},{"c":"RU","m":202409,"s":"up"},
{"c":"ZA","m":202002,"s":"same"},{"c":"ZA","m":202003,"s":"down"},{"c":"ZA","m":202004,"s":"down"},{"c":"ZA","m":202005,"s":"down"},{"c":"ZA","m":202006,"s":"same"},{"c":"ZA","m":202007,"s":"down"},{"c":"ZA","m":202008,"s":"same"},{"c":"ZA","m":202009,"s":"same"},{"c":"ZA","m":202010,"s":"same"},{"c":"ZA","m":202011,"s":"same"},{"c":"ZA","m":202012,"s":"same"},{"c":"ZA","m":202101,"s":"same"},{"c":"ZA","m":202102,"s":"same"},{"c":"ZA","m":202103,"s":"same"},{"c":"ZA","m":202104,"s":"same"},{"c":"ZA","m":202105,"s":"same"},{"c":"ZA","m":202106,"s":"same"},{"c":"ZA","m":202107,"s":"same"},{"c":"ZA","m":202108,"s":"same"},{"c":"ZA","m":202109,"s":"same"},{"c":"ZA","m":202110,"s":"same"},{"c":"ZA","m":202111,"s":"up"},{"c":"ZA","m":202112,"s":"same"},{"c":"ZA","m":202201,"s":"up"},{"c":"ZA","m":202202,"s":"same"},{"c":"ZA","m":202203,"s":"up"},{"c":"ZA","m":202204,"s":"same"},{"c":"ZA","m":202205,"s":"up"},{"c":"ZA","m":202206,"s":"same"},{"c":"ZA","m":202207,"s":"up"},{"c":"ZA","m":202208,"s":"same"},{"c":"ZA","m":202209,"s":"up"},{"c":"ZA","m":202210,"s":"same"},{"c":"ZA","m":202211,"s":"up"},{"c":"ZA","m":202212,"s":"same"},{"c":"ZA","m":202301,"s":"up"},{"c":"ZA","m":202302,"s":"same"},{"c":"ZA","m":202303,"s":"up"},{"c":"ZA","m":202304,"s":"same"},{"c":"ZA","m":202305,"s":"up"},{"c":"ZA","m":202306,"s":"same"},{"c":"ZA","m":202307,"s":"same"},{"c":"ZA","m":202308,"s":"same"},{"c":"ZA","m":202309,"s":"same"},{"c":"ZA","m":202310,"s":"same"},{"c":"ZA","m":202311,"s":"same"},{"c":"ZA","m":202312,"s":"same"},{"c":"ZA","m":202401,"s":"same"},{"c":"ZA","m":202402,"s":"same"},{"c":"ZA","m":202403,"s":"same"},{"c":"ZA","m":202404,"s":"same"},{"c":"ZA","m":202405,"s":"same"},{"c":"ZA","m":202406,"s":"same"},{"c":"ZA","m":202407,"s":"same"},
{"c":"KR","m":202002,"s":"same"},{"c":"KR","m":202003,"s":"down"},{"c":"KR","m":202004,"s":"same"},{"c":"KR","m":202005,"s":"down"},{"c":"KR","m":202006,"s":"same"},{"c":"KR","m":202007,"s":"same"},{"c":"KR","m":202008,"s":"same"},{"c":"KR","m":202009,"s":"same"},{"c":"KR","m":202010,"s":"same"},{"c":"KR","m":202011,"s":"same"},{"c":"KR","m":202012,"s":"same"},{"c":"KR","m":202101,"s":"same"},{"c":"KR","m":202102,"s":"same"},{"c":"KR","m":202103,"s":"same"},{"c":"KR","m":202104,"s":"same"},{"c":"KR","m":202105,"s":"same"},{"c":"KR","m":202106,"s":"same"},{"c":"KR","m":202107,"s":"same"},{"c":"KR","m":202108,"s":"up"},{"c":"KR","m":202109,"s":"same"},{"c":"KR","m":202110,"s":"same"},{"c":"KR","m":202111,"s":"up"},{"c":"KR","m":202112,"s":"same"},{"c":"KR","m":202201,"s":"up"},{"c":"KR","m":202202,"s":"same"},{"c":"KR","m":202203,"s":"same"},{"c":"KR","m":202204,"s":"up"},{"c":"KR","m":202205,"s":"up"},{"c":"KR","m":202206,"s":"same"},{"c":"KR","m":202207,"s":"up"},{"c":"KR","m":202208,"s":"up"},{"c":"KR","m":202209,"s":"same"},{"c":"KR","m":202210,"s":"up"},{"c":"KR","m":202211,"s":"up"},{"c":"KR","m":202212,"s":"same"},{"c":"KR","m":202301,"s":"up"},{"c":"KR","m":202302,"s":"same"},{"c":"KR","m":202303,"s":"same"},{"c":"KR","m":202304,"s":"same"},{"c":"KR","m":202305,"s":"same"},{"c":"KR","m":202306,"s":"same"},{"c":"KR","m":202307,"s":"same"},{"c":"KR","m":202308,"s":"same"},{"c":"KR","m":202309,"s":"same"},{"c":"KR","m":202310,"s":"same"},{"c":"KR","m":202311,"s":"same"},{"c":"KR","m":202312,"s":"same"},{"c":"KR","m":202401,"s":"same"},{"c":"KR","m":202402,"s":"same"},{"c":"KR","m":202403,"s":"same"},{"c":"KR","m":202404,"s":"same"},{"c":"KR","m":202405,"s":"same"},{"c":"KR","m":202406,"s":"same"},{"c":"KR","m":202407,"s":"same"},{"c":"KR","m":202408,"s":"same"},
{"c":"SE","m":202002,"s":"same"},{"c":"SE","m":202003,"s":"same"},{"c":"SE","m":202004,"s":"same"},{"c":"SE","m":202005,"s":"same"},{"c":"SE","m":202006,"s":"same"},{"c":"SE","m":202007,"s":"same"},{"c":"SE","m":202008,"s":"same"},{"c":"SE","m":202009,"s":"same"},{"c":"SE","m":202010,"s":"same"},{"c":"SE","m":202011,"s":"same"},{"c":"SE","m":202012,"s":"same"},{"c":"SE","m":202101,"s":"same"},{"c":"SE","m":202102,"s":"same"},{"c":"SE","m":202103,"s":"same"},{"c":"SE","m":202104,"s":"same"},{"c":"SE","m":202105,"s":"same"},{"c":"SE","m":202106,"s":"same"},{"c":"SE","m":202107,"s":"same"},{"c":"SE","m":202108,"s":"same"},{"c":"SE","m":202109,"s":"same"},{"c":"SE","m":202110,"s":"same"},{"c":"SE","m":202111,"s":"same"},{"c":"SE","m":202112,"s":"same"},{"c":"SE","m":202201,"s":"same"},{"c":"SE","m":202202,"s":"same"},{"c":"SE","m":202203,"s":"same"},{"c":"SE","m":202204,"s":"same"},{"c":"SE","m":202205,"s":"up"},{"c":"SE","m":202206,"s":"same"},{"c":"SE","m":202207,"s":"up"},{"c":"SE","m":202208,"s":"same"},{"c":"SE","m":202209,"s":"up"},{"c":"SE","m":202210,"s":"same"},{"c":"SE","m":202211,"s":"up"},{"c":"SE","m":202212,"s":"same"},{"c":"SE","m":202301,"s":"same"},{"c":"SE","m":202302,"s":"up"},{"c":"SE","m":202303,"s":"same"},{"c":"SE","m":202304,"s":"same"},{"c":"SE","m":202305,"s":"up"},{"c":"SE","m":202306,"s":"same"},{"c":"SE","m":202307,"s":"up"},{"c":"SE","m":202308,"s":"same"},{"c":"SE","m":202309,"s":"up"},{"c":"SE","m":202310,"s":"same"},{"c":"SE","m":202311,"s":"same"},{"c":"SE","m":202312,"s":"same"},{"c":"SE","m":202401,"s":"same"},{"c":"SE","m":202402,"s":"same"},{"c":"SE","m":202403,"s":"same"},{"c":"SE","m":202404,"s":"same"},{"c":"SE","m":202405,"s":"down"},{"c":"SE","m":202406,"s":"same"},{"c":"SE","m":202407,"s":"same"},{"c":"SE","m":202408,"s":"down"},
{"c":"CH","m":202002,"s":"same"},{"c":"CH","m":202003,"s":"same"},{"c":"CH","m":202004,"s":"same"},{"c":"CH","m":202005,"s":"same"},{"c":"CH","m":202006,"s":"same"},{"c":"CH","m":202007,"s":"same"},{"c":"CH","m":202008,"s":"same"},{"c":"CH","m":202009,"s":"same"},{"c":"CH","m":202010,"s":"same"},{"c":"CH","m":202011,"s":"same"},{"c":"CH","m":202012,"s":"same"},{"c":"CH","m":202101,"s":"same"},{"c":"CH","m":202102,"s":"same"},{"c":"CH","m":202103,"s":"same"},{"c":"CH","m":202104,"s":"same"},{"c":"CH","m":202105,"s":"same"},{"c":"CH","m":202106,"s":"same"},{"c":"CH","m":202107,"s":"same"},{"c":"CH","m":202108,"s":"same"},{"c":"CH","m":202109,"s":"same"},{"c":"CH","m":202110,"s":"same"},{"c":"CH","m":202111,"s":"same"},{"c":"CH","m":202112,"s":"same"},{"c":"CH","m":202201,"s":"same"},{"c":"CH","m":202202,"s":"same"},{"c":"CH","m":202203,"s":"same"},{"c":"CH","m":202204,"s":"same"},{"c":"CH","m":202205,"s":"same"},{"c":"CH","m":202206,"s":"up"},{"c":"CH","m":202207,"s":"same"},{"c":"CH","m":202208,"s":"same"},{"c":"CH","m":202209,"s":"up"},{"c":"CH","m":202210,"s":"same"},{"c":"CH","m":202211,"s":"same"},{"c":"CH","m":202212,"s":"up"},{"c":"CH","m":202301,"s":"same"},{"c":"CH","m":202302,"s":"same"},{"c":"CH","m":202303,"s":"up"},{"c":"CH","m":202304,"s":"same"},{"c":"CH","m":202305,"s":"same"},{"c":"CH","m":202306,"s":"up"},{"c":"CH","m":202307,"s":"same"},{"c":"CH","m":202308,"s":"same"},{"c":"CH","m":202309,"s":"same"},{"c":"CH","m":202310,"s":"same"},{"c":"CH","m":202311,"s":"same"},{"c":"CH","m":202312,"s":"same"},{"c":"CH","m":202401,"s":"same"},{"c":"CH","m":202402,"s":"same"},{"c":"CH","m":202403,"s":"down"},{"c":"CH","m":202404,"s":"same"},{"c":"CH","m":202405,"s":"same"},{"c":"CH","m":202406,"s":"down"},
{"c":"TR","m":202002,"s":"down"},{"c":"TR","m":202003,"s":"down"},{"c":"TR","m":202004,"s":"down"},{"c":"TR","m":202005,"s":"down"},{"c":"TR","m":202006,"s":"same"},{"c":"TR","m":202007,"s":"same"},{"c":"TR","m":202008,"s":"same"},{"c":"TR","m":202009,"s":"up"},{"c":"TR","m":202010,"s":"same"},{"c":"TR","m":202011,"s":"up"},{"c":"TR","m":202012,"s":"up"},{"c":"TR","m":202101,"s":"same"},{"c":"TR","m":202102,"s":"same"},{"c":"TR","m":202103,"s":"up"},{"c":"TR","m":202104,"s":"same"},{"c":"TR","m":202105,"s":"same"},{"c":"TR","m":202106,"s":"same"},{"c":"TR","m":202107,"s":"same"},{"c":"TR","m":202108,"s":"same"},{"c":"TR","m":202109,"s":"down"},{"c":"TR","m":202110,"s":"down"},{"c":"TR","m":202111,"s":"down"},{"c":"TR","m":202112,"s":"down"},{"c":"TR","m":202201,"s":"same"},{"c":"TR","m":202202,"s":"same"},{"c":"TR","m":202203,"s":"same"},{"c":"TR","m":202204,"s":"same"},{"c":"TR","m":202205,"s":"same"},{"c":"TR","m":202206,"s":"same"},{"c":"TR","m":202207,"s":"same"},{"c":"TR","m":202208,"s":"down"},{"c":"TR","m":202209,"s":"down"},{"c":"TR","m":202210,"s":"down"},{"c":"TR","m":202211,"s":"down"},{"c":"TR","m":202212,"s":"same"},{"c":"TR","m":202301,"s":"same"},{"c":"TR","m":202302,"s":"down"},{"c":"TR","m":202303,"s":"same"},{"c":"TR","m":202304,"s":"same"},{"c":"TR","m":202305,"s":"same"},{"c":"TR","m":202306,"s":"up"},{"c":"TR","m":202307,"s":"up"},{"c":"TR","m":202308,"s":"up"},{"c":"TR","m":202309,"s":"up"},{"c":"TR","m":202310,"s":"up"},{"c":"TR","m":202311,"s":"up"},{"c":"TR","m":202312,"s":"up"},{"c":"TR","m":202401,"s":"up"},{"c":"TR","m":202402,"s":"same"},{"c":"TR","m":202403,"s":"up"},{"c":"TR","m":202404,"s":"same"},{"c":"TR","m":202405,"s":"same"},{"c":"TR","m":202406,"s":"same"},{"c":"TR","m":202407,"s":"same"},{"c":"TR","m":202408,"s":"same"},{"c":"TR","m":202409,"s":"same"}
]},
"mark":{"type":"rect","stroke":"#8c9a9a","strokeWidth":1},
"encoding":{
"x":{"field":"m","type":"ordinal","title":null,"scale":{"paddingInner":0,"paddingOuter":0},"axis":{"orient":"top","values":[202003,202101,202201,202301,202401],"labelExpr":"{202003:'مارس ۲۰۲۰',202101:'ژانویهٔ ۲۰۲۱',202201:'ژانویهٔ ۲۰۲۲',202301:'ژانویهٔ ۲۰۲۳',202401:'ژانویهٔ ۲۰۲۴'}[datum.value]","labelAngle":0,"labelFontSize":15,"labelColor":"#222","labelPadding":9,"tickSize":10,"tickColor":"#a8a8a8","domain":false,"grid":false}},
"y":{"field":"c","type":"nominal","title":null,"scale":{"domain":["GB","US","EA","CA","JP","BR","CN","AR","AU","CL","CZ","HU","IN","ID","MX","NO","PE","RU","ZA","KR","SE","CH","TR"],"paddingInner":0,"paddingOuter":0},"axis":{"labelExpr":"{GB:'بریتانیا',US:'ایالات متحدهٔ امریکا',EA:'حوزهٔ یورو',CA:'کانادا',JP:'ژاپن',BR:'برزیل',CN:'چین',AR:'آرژانتین',AU:'استرالیا',CL:'شیلی',CZ:'جمهوری چک',HU:'مجارستان',IN:'هند',ID:'اندونزی',MX:'مکزیک',NO:'نروژ',PE:'پرو',RU:'روسیه',ZA:'افریقای جنوبی',KR:'کرهٔ جنوبی',SE:'سوئد',CH:'سوئیس',TR:'ترکیه'}[datum.value]","labelFontSize":18,"labelColor":"#222","labelPadding":9,"ticks":false,"domain":false,"grid":false}},
"color":{"field":"s","type":"nominal","scale":{"domain":["down","same","up"],"range":["#74dfc5","#ffffff","#bf2000"]},"legend":{"orient":"none","legendX":-20,"legendY":-93,"direction":"horizontal","columns":3,"title":null,"symbolType":"M-1,-0.5H1V0.5H-1Z","symbolSize":576,"symbolStrokeColor":"#333","symbolStrokeWidth":1,"labelFontSize":15,"labelColor":"#222","columnPadding":34,"labelOffset":7,"labelExpr":"{down:'کاهش',same:'عدم تغییر',up:'افزایش'}[datum.value]"}}
}}
